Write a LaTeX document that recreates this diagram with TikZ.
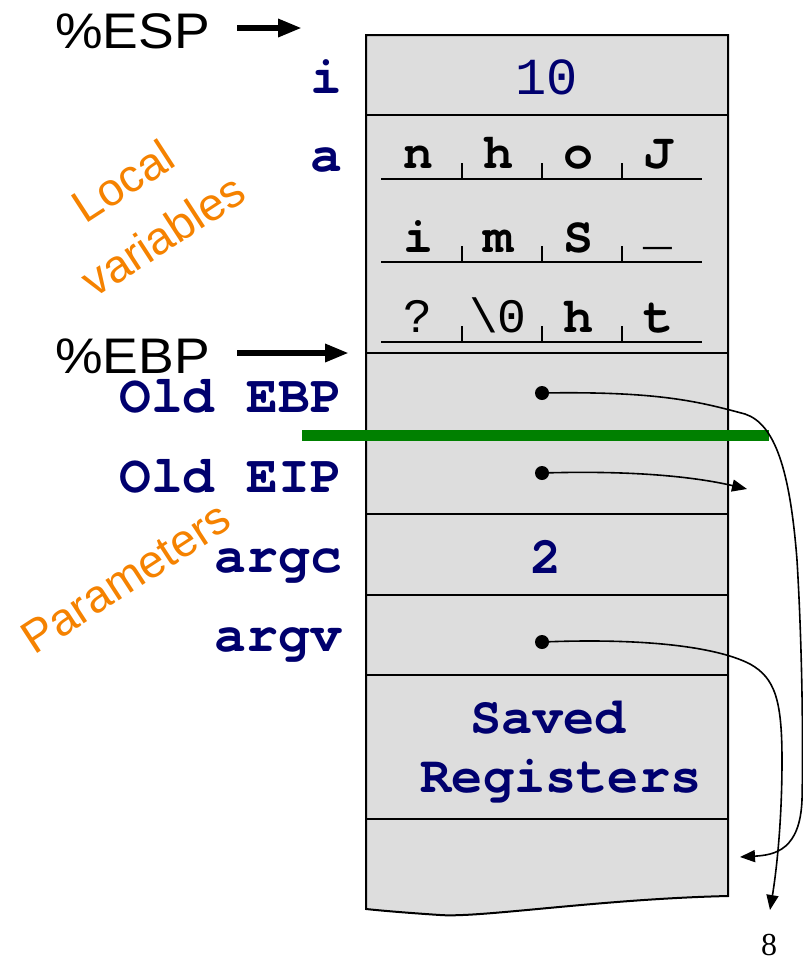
\documentclass[tikz,border=0pt]{standalone}
\usepackage{fontspec}
\setmainfont{Liberation Sans}
\newfontfamily\monofam{texgyrecursor}[Extension=.otf, UprightFont=*-regular, BoldFont=*-bold]
\newfontfamily\monoreg{Liberation Mono}
\newfontfamily\seriffam{Liberation Serif}
\usetikzlibrary{arrows.meta}
\definecolor{navy}{RGB}{0,0,110}
\definecolor{cellgray}{RGB}{221,221,221}
\definecolor{darkgreen}{RGB}{0,128,0}
\definecolor{labelorange}{RGB}{245,130,0}
\tikzset{
  lbl/.style={font=\monofam\bfseries\fontsize{53}{53}\selectfont, text=navy, anchor=base east, inner sep=0pt},
  val/.style={font=\monofam\bfseries\fontsize{52}{52}\selectfont, text=navy, anchor=base, inner sep=0pt},
  valreg/.style={font=\monoreg\fontsize{52}{52}\selectfont, text=navy, anchor=base, inner sep=0pt},
  chb/.style={font=\monofam\bfseries\fontsize{50}{50}\selectfont, text=black, anchor=base, inner sep=0pt},
  chr/.style={font=\monoreg\fontsize{48}{48}\selectfont, text=black, anchor=base, inner sep=0pt},
  reg/.style={font=\fontsize{50}{50}\selectfont, text=black, anchor=base west, inner sep=0pt, xscale=1.07},
  side/.style={font=\fontsize{46}{46}\selectfont, text=labelorange, rotate=33, inner sep=0pt},
  divider/.style={line width=2pt},
  thinline/.style={line width=1.6pt},
  bigarrow/.style={line width=6pt, -{Triangle[length=24pt,width=17pt]}},
  ptr/.style={line width=1.6pt, -{Triangle[length=15pt,width=12pt]}},
  dot/.style={circle, fill=black, inner sep=0pt, minimum size=14pt}
}
\begin{document}
\begin{tikzpicture}[x=1pt,y=-1pt]
\useasboundingbox (0,0) rectangle (803,962);
% stack box
\path[draw, line width=2pt, fill=cellgray]
  (366,35) -- (728,35) -- (728,896)
  .. controls (600,899) and (480,918) .. (440,915)
  .. controls (410,913) and (385,911) .. (366,909) -- cycle;
% dividers
\foreach \yy in {115,353,434,514,595,675,819}
  \draw[divider] (366,\yy) -- (728,\yy);
% char grid underlines and ticks
\foreach \yy in {179,262,342} {
  \draw[thinline] (381,\yy) -- (702,\yy);
  \foreach \xx in {462,542,622}
    \draw[thinline] (\xx,\yy-16) -- (\xx,\yy);
}
% chars
\node[chb] (c11) at (418,168) {n};
\node[chb] (c12) at (498,168) {h};
\node[chb] (c13) at (578,168) {o};
\node[chb] (c14) at (658,168) {J};
\node[chb] (c21) at (418,252) {i};
\node[chb] (c22) at (498,252) {m};
\node[chb] (c23) at (578,252) {S};
\node[chr] (c24) at (658,244) {\_};
\node[chr] (c31) at (418,332) {?};
\node[chr] (c32) at (498,332) {\textbackslash 0};
\node[chb] (c33) at (578,332) {h};
\node[chb] (c34) at (658,332) {t};
% values
\node[valreg] (v10) at (547,94) {10};
\node[val] (v2) at (546,573) {2};
\node[val] (vs) at (548,733) {Saved};
\node[val] (vr) at (561,792) {Registers};
% left labels
\node[lbl] (li) at (342,93) {i};
\node[lbl] (la) at (342,171) {a};
\node[lbl] (lebp) at (342,412) {Old EBP};
\node[lbl] (leip) at (342,492) {Old EIP};
\node[lbl] (largc) at (342,572) {argc};
\node[lbl] (largv) at (342,651) {argv};
% registers
\node[reg] (esp) at (55,48) {\%ESP};
\node[reg] (ebp) at (55,373) {\%EBP};
\coordinate (espA) at (237,28);
\coordinate (espB) at (302,28);
\coordinate (ebpA) at (237,353);
\coordinate (ebpB) at (349,353);
\draw[bigarrow] (espA) -- (espB);
\draw[bigarrow] (ebpA) -- (ebpB);
% side labels
\node[side] (loc1) at (123,181) {Local};
\node[side] (loc2) at (163,235) {variables};
\node[side] (par) at (126,578) {Parameters};
% green line
\coordinate (gA) at (302,435.5);
\coordinate (gB) at (769,435.5);
\draw[darkgreen, line width=11pt] (gA) -- (gB);
% pointers
\node[dot] (d1) at (542,393) {};
\node[dot] (d2) at (542,473) {};
\node[dot] (d3) at (542,642) {};
\coordinate (e1) at (740,857);
\coordinate (e2) at (747,489);
\coordinate (e3) at (770,910);
\draw[ptr] (d1.center) .. controls (660,391) and (700,402) .. (745,414)
  .. controls (775,424) and (790,470) .. (797,560)
  .. controls (803,660) and (803,760) .. (802,800)
  .. controls (800,850) and (775,855) .. (e1);
\draw[ptr] (d2.center) .. controls (640,470) and (700,478) .. (e2);
\draw[ptr] (d3.center) .. controls (640,638) and (715,646) .. (750,664)
  .. controls (775,678) and (782,700) .. (782,760)
  .. controls (782,830) and (775,880) .. (e3);
% page number
\node[font=\seriffam\fontsize{32}{32}\selectfont, inner sep=0pt] (pg) at (769,945) {8};
\end{tikzpicture}
\end{document}
